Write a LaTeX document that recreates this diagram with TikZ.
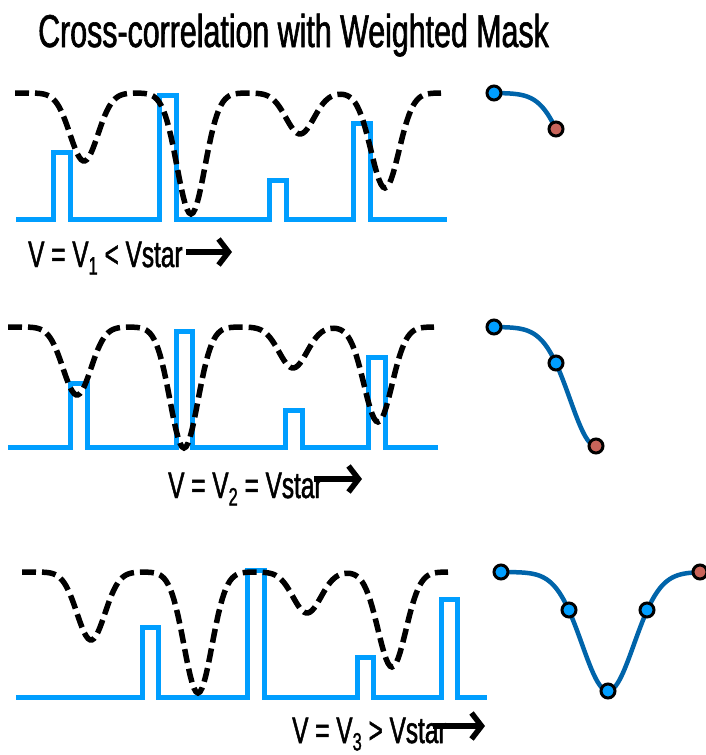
\documentclass[tikz,border=0pt]{standalone}
\usepackage{fontspec}
\setmainfont{Liberation Sans}[FakeStretch=0.66,FakeBold=1.3]
\usetikzlibrary{arrows.meta}
\definecolor{pulseblue}{RGB}{0,158,255}
\definecolor{corrblue}{RGB}{0,100,170}
\definecolor{peakred}{RGB}{200,100,90}
\newcommand{\lowidx}[1]{\raisebox{-0.2em}{\fontsize{25}{25}\selectfont #1}}
\tikzset{
  pulse/.style={pulseblue,line width=5pt,line join=miter},
  mask/.style={black,line width=5.5pt,dash pattern=on 14pt off 6pt},
  corr/.style={corrblue,line width=4.5pt},
  dot/.style={circle,draw=black,line width=3pt,minimum size=14pt,inner sep=0pt},
  shiftarrow/.style={black,line width=5.5pt,-{Straight Barb[length=10pt,width=26pt]}},
  lbl/.style={anchor=base west,inner sep=0pt,font=\fontsize{37}{40}\selectfont}
}
\begin{document}
\begin{tikzpicture}[x=1pt,y=-1pt,
  declare function={dip(\u)=exp(-0.5*min(\u*\u,40));}]
  \useasboundingbox (0,0) rectangle (705,755);
  \node[anchor=base west,inner sep=0pt,font=\fontsize{46}{50}\selectfont] (title) at (38,47) {Cross-correlation with Weighted Mask};
  % pulse trains
  \draw[pulse] (16,219) -| (53,152) -| (70,219) -| (159,95) -| (176,219) -| (269,180) -| (286,219) -| (353,123) -| (370,219) -- (447,219);
  \draw[pulse] (8,447) -| (70,383) -| (87,447) -| (176,331) -| (192,447) -| (285,410) -| (302,447) -| (368,357) -| (385,447) -- (438,447);
  \draw[pulse] (16,697) -| (142,627) -| (158,697) -| (247,570) -| (264,697) -| (357,657) -| (373,697) -| (441,599) -| (457,697) -- (487,697);
  % weighted mask
  \foreach \xs/\yt in {15/93,8/327,22/572}
    \draw[mask] plot[domain=0:426,samples=214]
      ({\xs+\x},{\yt+68*dip((\x-69)/14)+121*dip((\x-176)/14)+41*dip((\x-285)/14)+95*dip((\x-370)/14)});
  % shift labels
  \node[lbl] (lab1) at (28,267) {V = V\lowidx{1} < Vstar};
  \node[lbl] (lab2) at (168,498) {V = V\lowidx{2} = Vstar};
  \node[lbl] (lab3) at (292,743) {V = V\lowidx{3} > Vstar};
  \coordinate (arr1s) at (186,252);
  \coordinate (arr1e) at (232,252);
  \coordinate (arr2s) at (314,479);
  \coordinate (arr2e) at (362,479);
  \coordinate (arr3s) at (433,726);
  \coordinate (arr3e) at (485,726);
  \draw[shiftarrow] (arr1s) -- (arr1e);
  \draw[shiftarrow] (arr2s) -- (arr2e);
  \draw[shiftarrow] (arr3s) -- (arr3e);
  % correlation result
  \draw[corr] plot[domain=494:556,samples=40] (\x,{93+119*dip((\x-596)/26)});
  \draw[corr] plot[domain=494:596,samples=60] (\x,{327+119*dip((\x-596)/26)});
  \draw[corr] plot[domain=501:700,samples=100] (\x,{572+119*dip((\x-608)/26)});
  \node[dot,fill=pulseblue] (c1a) at (494,93) {};
  \node[dot,fill=peakred] (c1b) at (556,129) {};
  \node[dot,fill=pulseblue] (c2a) at (494,327) {};
  \node[dot,fill=pulseblue] (c2b) at (556,363) {};
  \node[dot,fill=peakred] (c2c) at (596,446) {};
  \node[dot,fill=pulseblue] (c3a) at (501,572) {};
  \node[dot,fill=pulseblue] (c3b) at (569,610) {};
  \node[dot,fill=pulseblue] (c3c) at (608,691) {};
  \node[dot,fill=pulseblue] (c3d) at (647,610) {};
  \node[dot,fill=peakred] (c3e) at (700,572) {};
\end{tikzpicture}
\end{document}
